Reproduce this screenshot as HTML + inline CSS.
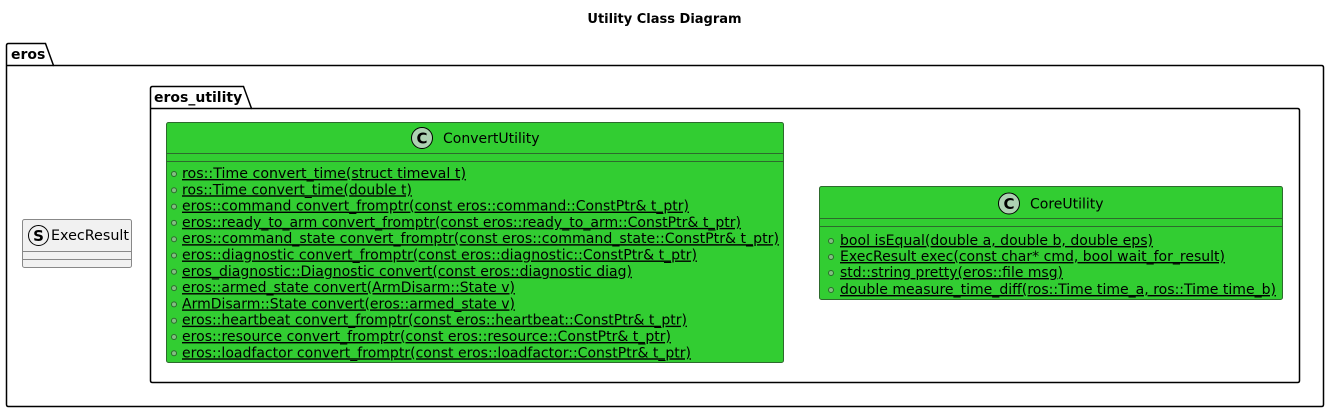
<!DOCTYPE html>
<html><head><meta charset="utf-8"><style>
html,body{margin:0;padding:0;background:#fff;}
svg{display:block;font-family:"DejaVu Sans","Liberation Sans",sans-serif;}
.m{font-size:14px;fill:#000;text-decoration:underline;}
</style></head><body>
<svg width="1329" height="411" viewBox="0 0 1329 411" xmlns="http://www.w3.org/2000/svg">
<text x="664.5" y="23" font-size="13" font-weight="bold" text-anchor="middle">Utility Class Diagram</text>
<path d="M6.5,65.5 L6.5,45.5 Q6.5,43.5 8.5,43.5 L45.5,43.5 L53.5,65.5 L1321.5,65.5 Q1323.5,65.5 1323.5,67.5 L1323.5,404.5 Q1323.5,406.5 1321.5,406.5 L8.5,406.5 Q6.5,406.5 6.5,404.5 Z" fill="none" stroke="#000" stroke-width="1.5"/>
<line x1="6.5" y1="65.5" x2="53.5" y2="65.5" stroke="#000" stroke-width="1.5"/>
<text x="11" y="59" font-size="14" font-weight="bold">eros</text>
<path d="M150.5,108.5 L150.5,88.5 Q150.5,86.5 152.5,86.5 L243.5,86.5 L251.5,108.5 L1297.5,108.5 Q1299.5,108.5 1299.5,110.5 L1299.5,380.5 Q1299.5,382.5 1297.5,382.5 L152.5,382.5 Q150.5,382.5 150.5,380.5 Z" fill="none" stroke="#000" stroke-width="1.5"/>
<line x1="150.5" y1="108.5" x2="251.5" y2="108.5" stroke="#000" stroke-width="1.5"/>
<text x="154" y="102" font-size="14" font-weight="bold">eros_utility</text>
<rect x="22.5" y="219.5" width="109" height="48" rx="2" fill="#f1f1f1" stroke="#888" stroke-width="1"/>
<line x1="22.5" y1="251.5" x2="131.5" y2="251.5" stroke="#888"/>
<line x1="22.5" y1="259.5" x2="131.5" y2="259.5" stroke="#888"/>
<circle cx="38.5" cy="235.5" r="10" fill="#f1f1f1" stroke="#000"/>
<text x="38.5" y="241" font-size="15" font-weight="bold" text-anchor="middle">S</text>
<text x="51" y="240" font-size="14" textLength="78" lengthAdjust="spacingAndGlyphs">ExecResult</text>
<rect x="166.5" y="122.5" width="617" height="240" rx="2" fill="#32cd32" stroke="#2d6a2d" stroke-width="1"/>
<line x1="166.5" y1="153.5" x2="783.5" y2="153.5" stroke="#2d6a2d"/>
<line x1="166.5" y1="161.5" x2="783.5" y2="161.5" stroke="#2d6a2d"/>
<circle cx="422" cy="138" r="10.5" fill="#add1b2" stroke="#000"/>
<text x="422" y="143.5" font-size="15" font-weight="bold" text-anchor="middle">C</text>
<text x="443" y="143" font-size="14">ConvertUtility</text>
<g fill="#84be84" stroke="#2d6a2d" stroke-width="1">
<circle cx="174" cy="174" r="2.5"/><circle cx="174" cy="190.3" r="2.5"/><circle cx="174" cy="206.6" r="2.5"/><circle cx="174" cy="222.9" r="2.5"/><circle cx="174" cy="239.2" r="2.5"/><circle cx="174" cy="255.5" r="2.5"/><circle cx="174" cy="271.8" r="2.5"/><circle cx="174" cy="288.1" r="2.5"/><circle cx="174" cy="304.4" r="2.5"/><circle cx="174" cy="320.7" r="2.5"/><circle cx="174" cy="337" r="2.5"/><circle cx="174" cy="353.3" r="2.5"/>
</g>
<text class="m" x="182" y="178" textLength="284" lengthAdjust="spacingAndGlyphs">ros::Time convert_time(struct timeval t)</text>
<text class="m" x="182" y="194.3" textLength="230" lengthAdjust="spacingAndGlyphs">ros::Time convert_time(double t)</text>
<text class="m" x="182" y="210.6" textLength="507" lengthAdjust="spacingAndGlyphs">eros::command convert_fromptr(const eros::command::ConstPtr&amp; t_ptr)</text>
<text class="m" x="182" y="226.9" textLength="559" lengthAdjust="spacingAndGlyphs">eros::ready_to_arm convert_fromptr(const eros::ready_to_arm::ConstPtr&amp; t_ptr)</text>
<text class="m" x="182" y="243.2" textLength="597" lengthAdjust="spacingAndGlyphs">eros::command_state convert_fromptr(const eros::command_state::ConstPtr&amp; t_ptr)</text>
<text class="m" x="182" y="259.5" textLength="515" lengthAdjust="spacingAndGlyphs">eros::diagnostic convert_fromptr(const eros::diagnostic::ConstPtr&amp; t_ptr)</text>
<text class="m" x="182" y="275.8" textLength="450" lengthAdjust="spacingAndGlyphs">eros_diagnostic::Diagnostic convert(const eros::diagnostic diag)</text>
<text class="m" x="182" y="292.1" textLength="333" lengthAdjust="spacingAndGlyphs">eros::armed_state convert(ArmDisarm::State v)</text>
<text class="m" x="182" y="308.4" textLength="333" lengthAdjust="spacingAndGlyphs">ArmDisarm::State convert(eros::armed_state v)</text>
<text class="m" x="182" y="324.7" textLength="505" lengthAdjust="spacingAndGlyphs">eros::heartbeat convert_fromptr(const eros::heartbeat::ConstPtr&amp; t_ptr)</text>
<text class="m" x="182" y="341" textLength="489" lengthAdjust="spacingAndGlyphs">eros::resource convert_fromptr(const eros::resource::ConstPtr&amp; t_ptr)</text>
<text class="m" x="182" y="357.3" textLength="509" lengthAdjust="spacingAndGlyphs">eros::loadfactor convert_fromptr(const eros::loadfactor::ConstPtr&amp; t_ptr)</text>
<rect x="819.5" y="186.5" width="463" height="113" rx="2" fill="#32cd32" stroke="#2d6a2d" stroke-width="1"/>
<line x1="819.5" y1="218.5" x2="1282.5" y2="218.5" stroke="#2d6a2d"/>
<line x1="819.5" y1="226.5" x2="1282.5" y2="226.5" stroke="#2d6a2d"/>
<circle cx="1009" cy="203.5" r="10.5" fill="#add1b2" stroke="#000"/>
<text x="1009" y="209" font-size="15" font-weight="bold" text-anchor="middle">C</text>
<text x="1030" y="208.5" font-size="14">CoreUtility</text>
<g fill="#84be84" stroke="#2d6a2d" stroke-width="1">
<circle cx="831" cy="241" r="2.5"/><circle cx="831" cy="257" r="2.5"/><circle cx="831" cy="273" r="2.5"/><circle cx="831" cy="290" r="2.5"/>
</g>
<text class="m" x="840" y="245" textLength="313" lengthAdjust="spacingAndGlyphs">bool isEqual(double a, double b, double eps)</text>
<text class="m" x="840" y="261" textLength="385" lengthAdjust="spacingAndGlyphs">ExecResult exec(const char* cmd, bool wait_for_result)</text>
<text class="m" x="840" y="277" textLength="223" lengthAdjust="spacingAndGlyphs">std::string pretty(eros::file msg)</text>
<text class="m" x="840" y="294" textLength="436" lengthAdjust="spacingAndGlyphs">double measure_time_diff(ros::Time time_a, ros::Time time_b)</text>
</svg>
</body></html>
